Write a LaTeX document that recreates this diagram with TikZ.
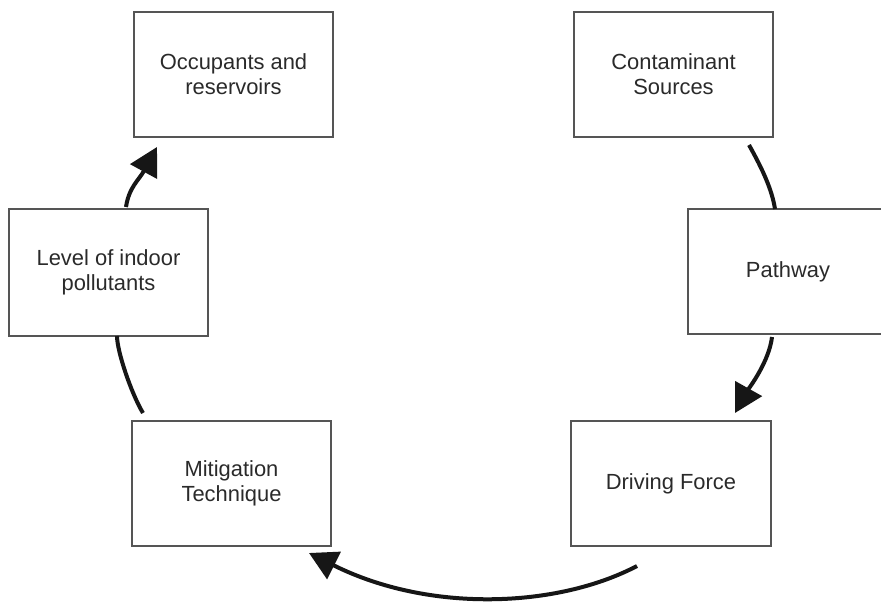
\documentclass[tikz,border=0pt]{standalone}
\usepackage{fontspec}
\setmainfont{Liberation Sans}
\usetikzlibrary{arrows.meta}
\definecolor{boxgray}{HTML}{555555}
\definecolor{txtgray}{HTML}{2A2A2A}
\definecolor{arrowblack}{HTML}{161616}
\begin{document}
\begin{tikzpicture}[x=1bp,y=-1bp,
  box/.style={draw=boxgray, line width=1.8bp, fill=white, minimum width=199bp,
    minimum height=125bp, inner sep=0pt, outer sep=0pt, align=center,
    text=txtgray, font=\fontsize{22}{25}\selectfont},
  flow/.style={draw=arrowblack, line width=4bp},
  head/.style={-{Triangle[length=28bp,width=30bp]}}]
\clip (0,0) rectangle (881,603);
\fill[white] (0,0) rectangle (881,603);
\node[box] (occ) at (233.5,74.5) {Occupants and\\reservoirs};
\node[box] (cont) at (673.5,74.5) {Contaminant\\Sources};
\node[box, minimum height=127bp] (lev) at (108.5,272.5) {Level of indoor\\pollutants};
\node[box, minimum width=200bp] (pw) at (788,271.5) {Pathway};
\node[box, minimum width=200bp] (drive) at (671,483.5) {Driving Force};
\node[box] (mit) at (231.5,483.5) {Mitigation\\Technique};
\draw[flow] ([xshift=-24bp,yshift=-8bp]cont.south east) .. controls +(14,25) and +(-3,-19) .. ([xshift=-13bp]pw.north);
\draw[flow,head] ([xshift=-16bp,yshift=-3bp]pw.south) .. controls +(-3,25) and +(14,-25) .. ([xshift=64bp,yshift=8bp]drive.north);
\draw[flow,head] ([xshift=-34bp,yshift=-20bp]drive.south) .. controls +(-80,42) and +(120,60) .. ([xshift=-22bp,yshift=-7bp]mit.south east);
\draw[flow] ([xshift=11bp,yshift=8bp]mit.north west) .. controls +(-12,-20) and +(0,15) .. ([xshift=8.5bp]lev.south);
\draw[flow,head] ([xshift=17.5bp,yshift=2bp]lev.north) .. controls +(3,-20) and +(-18,33) .. ([xshift=23bp,yshift=-10bp]occ.south west);
\end{tikzpicture}
\end{document}
